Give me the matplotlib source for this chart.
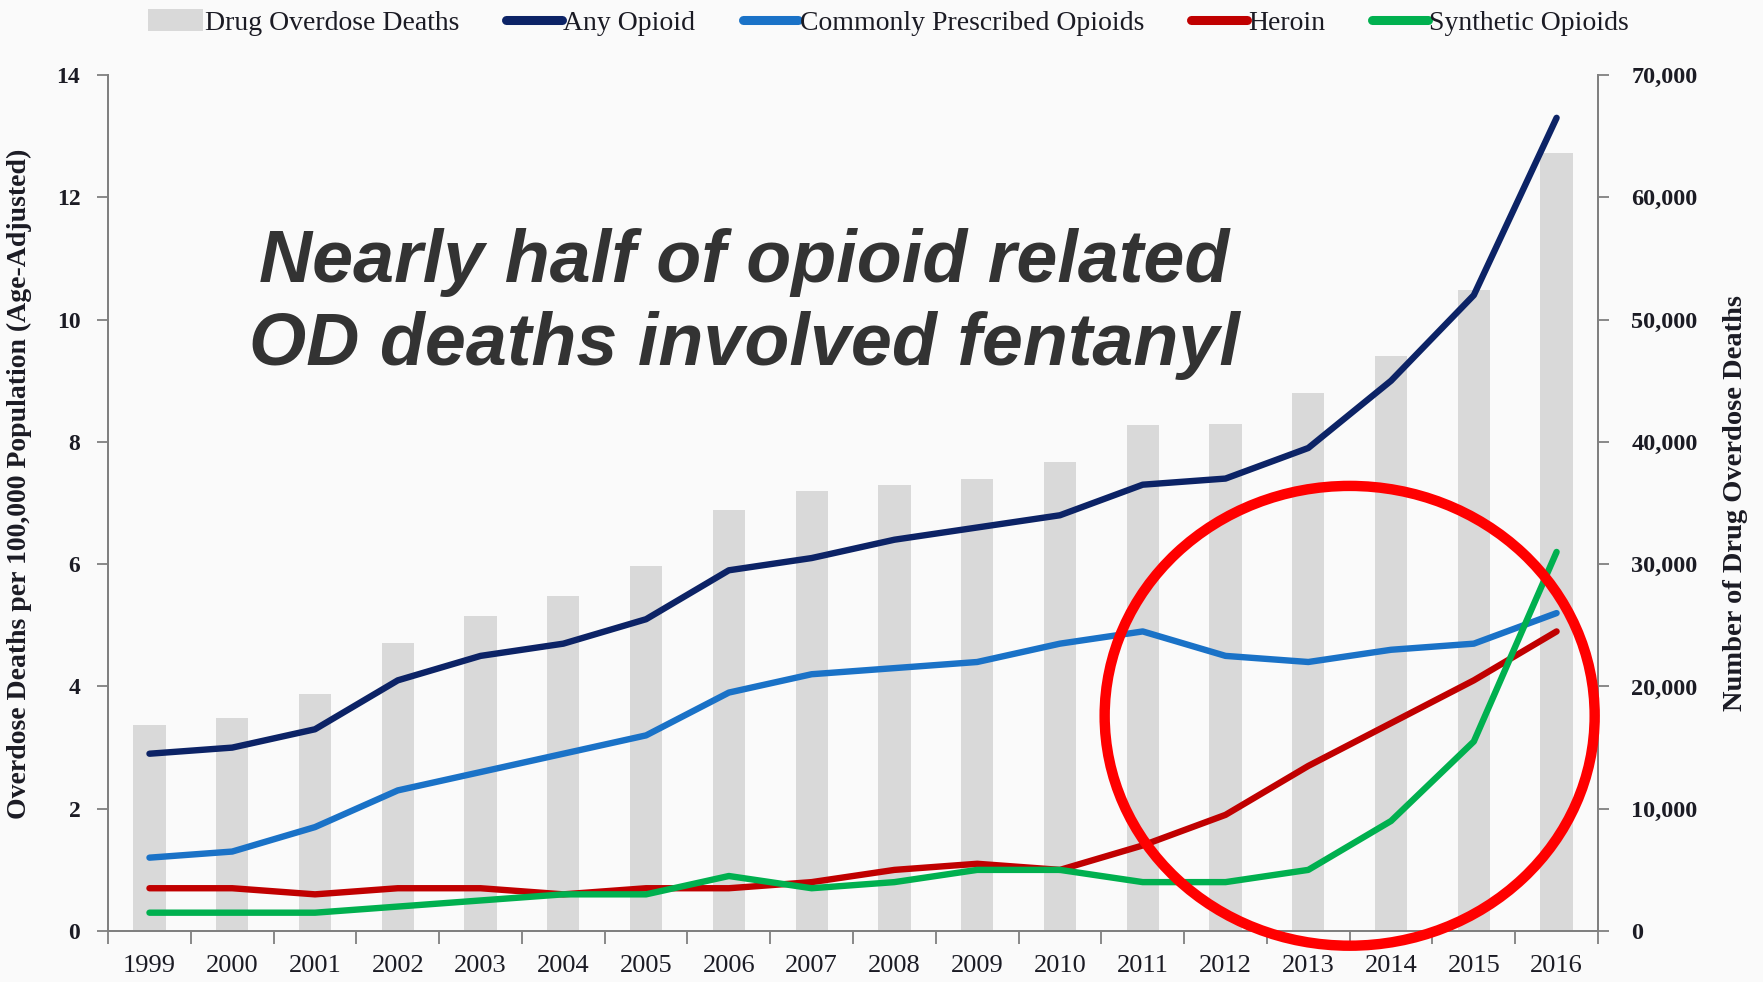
"""
Opioid overdose death rates 1999-2016 with total drug overdose deaths as bars.
"""
import matplotlib
matplotlib.use('Agg')
import matplotlib.pyplot as plt
from matplotlib.patches import Ellipse, Patch
from matplotlib.lines import Line2D
from matplotlib.ticker import FuncFormatter, MultipleLocator, FixedLocator
import numpy as np

plt.rcParams['font.family'] = ['Liberation Serif', 'DejaVu Serif']

# ------------------------------------------------------------
# data
# ------------------------------------------------------------
years = ['1999', '2000', '2001', '2002', '2003', '2004', '2005', '2006', '2007',
         '2008', '2009', '2010', '2011', '2012', '2013', '2014', '2015', '2016']

# total drug overdose deaths (right axis)
od_deaths = [16849, 17415, 19394, 23518, 25785, 27424, 29813, 34425, 36010,
             36450, 37004, 38329, 41340, 41502, 43982, 47055, 52404, 63632]

# age-adjusted rates per 100,000 (left axis)
any_opioid = [2.9, 3.0, 3.3, 4.1, 4.5, 4.7, 5.1, 5.9, 6.1,
              6.4, 6.6, 6.8, 7.3, 7.4, 7.9, 9.0, 10.4, 13.3]
prescribed = [1.2, 1.3, 1.7, 2.3, 2.6, 2.9, 3.2, 3.9, 4.2,
              4.3, 4.4, 4.7, 4.9, 4.5, 4.4, 4.6, 4.7, 5.2]
heroin = [0.7, 0.7, 0.6, 0.7, 0.7, 0.6, 0.7, 0.7, 0.8,
          1.0, 1.1, 1.0, 1.4, 1.9, 2.7, 3.4, 4.1, 4.9]
synthetic = [0.3, 0.3, 0.3, 0.4, 0.5, 0.6, 0.6, 0.9, 0.7,
             0.8, 1.0, 1.0, 0.8, 0.8, 1.0, 1.8, 3.1, 6.2]

series = [
    ('Any Opioid', any_opioid, '#0c2366'),
    ('Commonly Prescribed Opioids', prescribed, '#1a72c7'),
    ('Heroin', heroin, '#c00000'),
    ('Synthetic Opioids', synthetic, '#00b04f'),
]
bar_color = '#d9d9d9'
text_color = '#1b1b24'
spine_color = '#808080'

# ------------------------------------------------------------
# figure
# ------------------------------------------------------------
fig = plt.figure(figsize=(17.63, 9.82), dpi=100, facecolor='#fafafa')
ax = fig.add_axes([0.0613, 0.0519, 0.8451, 0.8717])
ax2 = ax.twinx()
ax.set_zorder(ax2.get_zorder() + 1)
ax.patch.set_visible(False)
ax2.patch.set_visible(False)

x = np.arange(len(years))

# bars on the right scale
ax2.bar(x, od_deaths, width=0.39, color=bar_color, zorder=1)
ax2.set_ylim(0, 70000)
ax2.yaxis.set_major_locator(MultipleLocator(10000))
ax2.yaxis.set_major_formatter(FuncFormatter(lambda v, p: f'{int(v):,}'))

# rate lines on the left scale
for name, vals, col in series:
    ax.plot(x, vals, color=col, lw=4.6, solid_capstyle='round',
            solid_joinstyle='round', zorder=3)
ax.set_ylim(0, 14)
ax.set_xlim(-0.5, len(years) - 0.5)
ax.yaxis.set_major_locator(MultipleLocator(2))

# x ticks between categories, labels centred under the bars
ax.xaxis.set_major_locator(FixedLocator(np.arange(-0.5, len(years), 1.0)))
ax.xaxis.set_major_formatter(FuncFormatter(lambda v, p: ''))
ax.xaxis.set_minor_locator(FixedLocator(x))
ax.set_xticklabels(years, minor=True)
ax.tick_params(axis='x', which='minor', length=0, pad=17, labelsize=19,
               labelcolor=text_color)
ax.tick_params(axis='x', which='major', length=9, width=1.3, color=spine_color,
               direction='out')

ax.tick_params(axis='y', length=8, width=1.3, color=spine_color, pad=12,
               labelsize=17, labelcolor=text_color)
ax2.tick_params(axis='y', length=8, width=1.3, color=spine_color, pad=16,
                labelsize=17.5, labelcolor=text_color)
for lab in ax.get_yticklabels() + ax2.get_yticklabels():
    lab.set_fontweight('bold')

for a in (ax, ax2):
    a.spines['top'].set_visible(False)
    for s in ('left', 'right', 'bottom'):
        a.spines[s].set_color(spine_color)
        a.spines[s].set_linewidth(1.4)

ax.set_ylabel('Overdose Deaths per 100,000 Population (Age-Adjusted)',
              fontsize=20, fontweight='bold', color=text_color)
ax.yaxis.set_label_coords(-0.051, 0.523)
ax2.set_ylabel('Number of Drug Overdose Deaths', fontsize=20.5, fontweight='bold',
               color=text_color, rotation=90, labelpad=18)

# highlight ring around the recent years
ring = Ellipse((14.5, 3.52), 5.92, 7.52, fill=False, edgecolor='#ff0000',
               lw=7.5, clip_on=False, zorder=5)
ax.add_patch(ring)

# headline
fig.text(0.422, 0.7128, 'Nearly half of opioid related', ha='center',
         va='baseline', fontsize=53, fontweight='bold', fontstyle='italic',
         family='Liberation Sans', color='#333333')
fig.text(0.422, 0.6283, 'OD deaths involved fentanyl', ha='center',
         va='baseline', fontsize=53, fontweight='bold', fontstyle='italic',
         family='Liberation Sans', color='#333333')

# legend along the top
handles = [Patch(facecolor=bar_color, edgecolor='none', label='Drug Overdose Deaths')]
for name, vals, col in series:
    handles.append(Line2D([0], [0], color=col, lw=6.5, solid_capstyle='round', label=name))
leg = fig.legend(handles=handles, loc='center', bbox_to_anchor=(0.504, 0.977),
                 ncol=5, frameon=False, fontsize=20, handlelength=2.0,
                 handletextpad=0.05, columnspacing=1.7, handleheight=0.8)
for t in leg.get_texts():
    t.set_color(text_color)

fig.savefig('out.png', dpi=100, facecolor=fig.get_facecolor())
